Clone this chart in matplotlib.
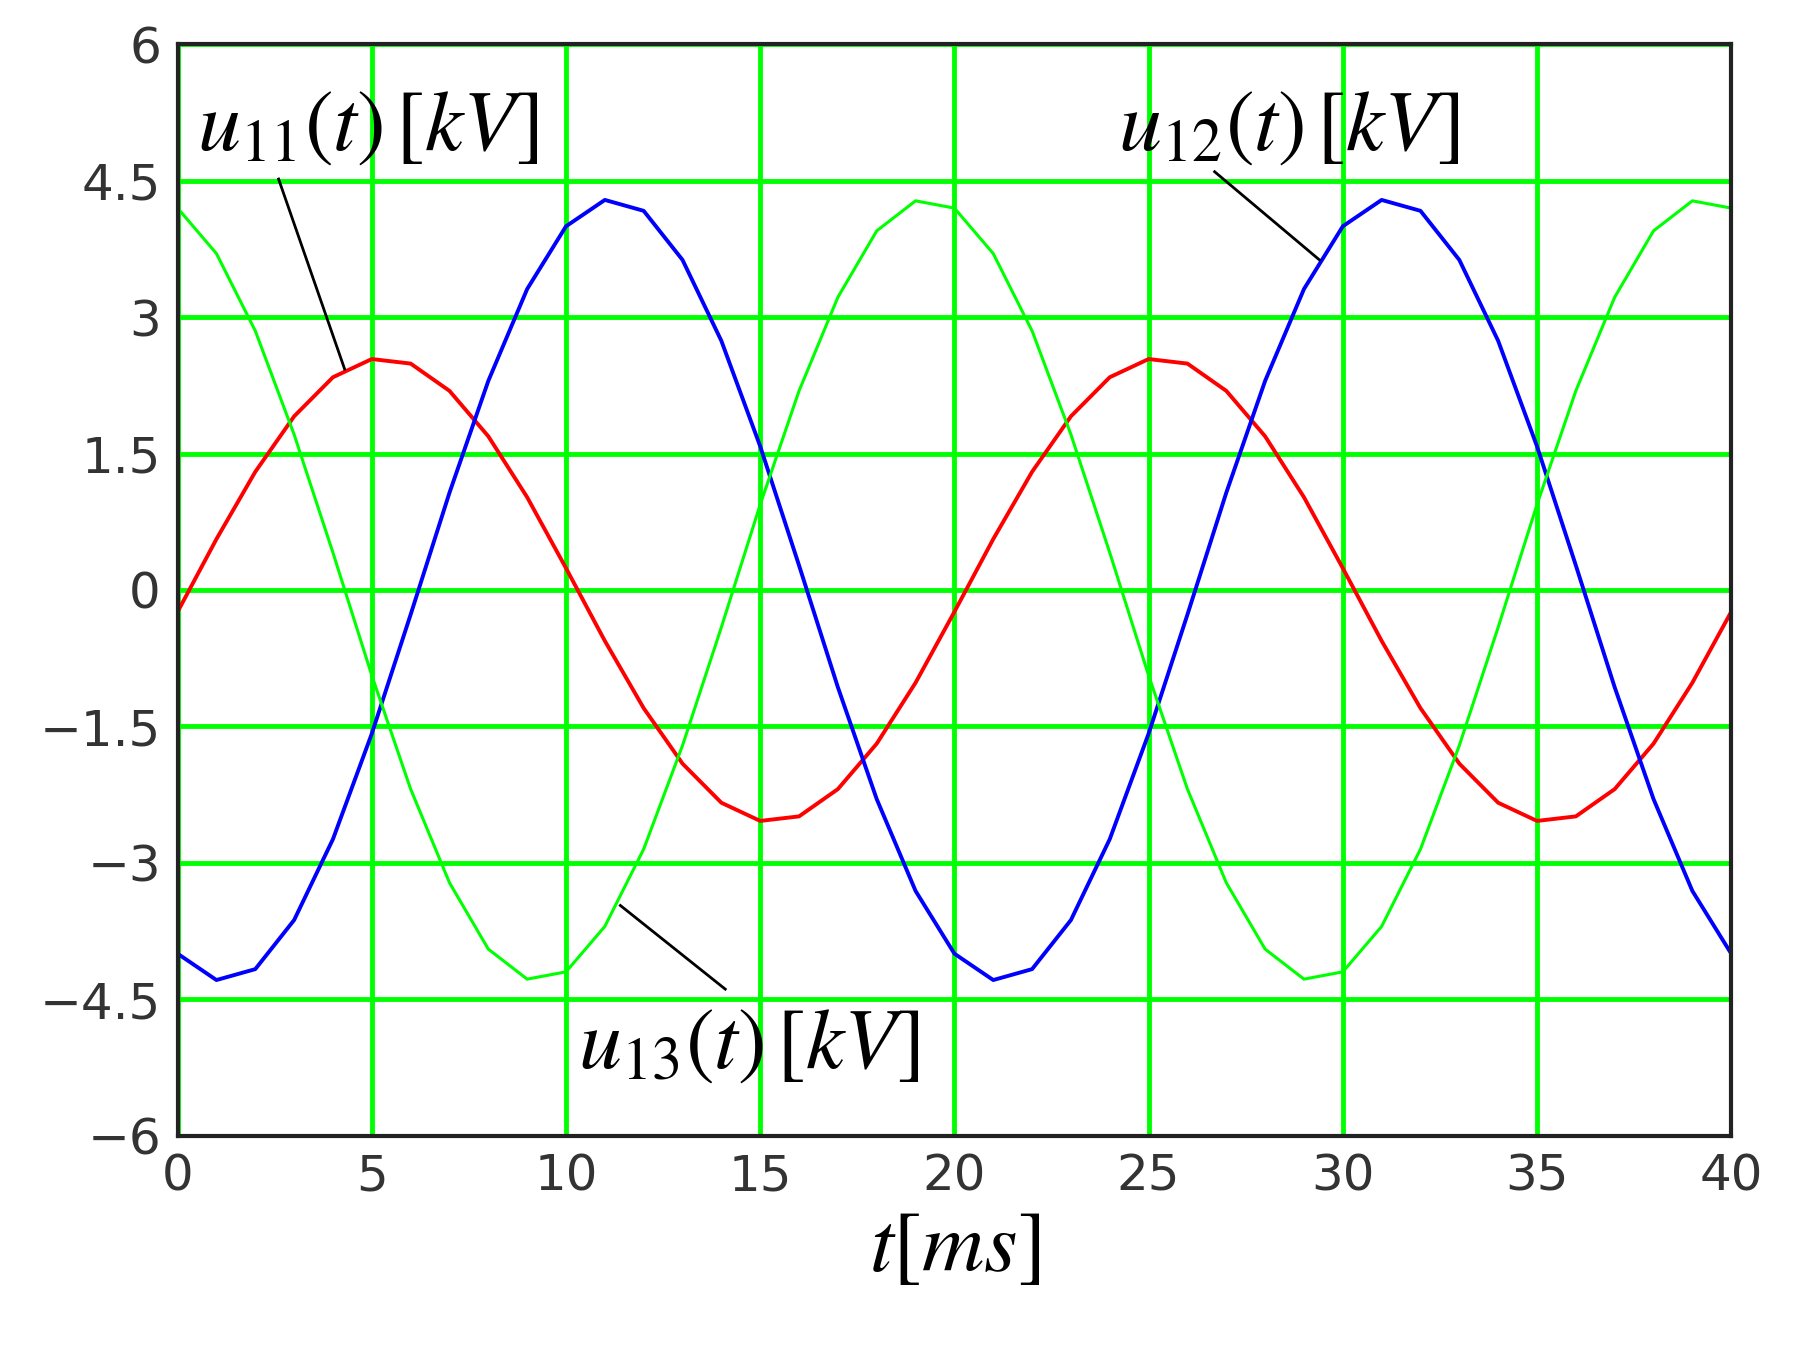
import matplotlib
matplotlib.use("Agg")
import matplotlib.pyplot as plt

t = list(range(0, 41))
u11_half = [-0.24, 0.56, 1.30, 1.91, 2.34, 2.54, 2.49, 2.19, 1.69, 1.02,
            0.24, -0.56, -1.30, -1.91, -2.34, -2.54, -2.49, -2.19, -1.69, -1.02]
u12_half = [-4.00, -4.29, -4.17, -3.63, -2.74, -1.58, -0.27, 1.07, 2.30, 3.31,
            4.00, 4.29, 4.17, 3.63, 2.74, 1.58, 0.27, -1.07, -2.30, -3.31]
u13_half = [4.20, 3.70, 2.85, 1.71, 0.41, -0.94, -2.19, -3.22, -3.95, -4.28,
            -4.20, -3.70, -2.85, -1.71, -0.41, 0.94, 2.19, 3.22, 3.95, 4.28]
u11 = u11_half * 2 + [u11_half[0]]
u12 = u12_half * 2 + [u12_half[0]]
u13 = u13_half * 2 + [u13_half[0]]
xticks = [0, 5, 10, 15, 20, 25, 30, 35, 40]
yticks = [-6, -4.5, -3, -1.5, 0, 1.5, 3, 4.5, 6]
ylabels = ["\u22126", "\u22124.5", "\u22123", "\u22121.5", "0", "1.5", "3", "4.5", "6"]

plt.rcParams['mathtext.fontset'] = 'stix'
fig = plt.figure(figsize=(17.94, 13.47), dpi=100)
ax = fig.add_axes([0.099, 0.157, 0.866, 0.81])
ax.set_xlim(0, 40)
ax.set_ylim(-6, 6)
ax.set_xticks(xticks)
ax.set_yticks(yticks)
ax.set_yticklabels(ylabels)
ax.grid(True, color='#00ff00', lw=3.5)
ax.set_axisbelow(True)
ax.tick_params(labelsize=36, length=0, pad=12, colors='#333333')
for s in ax.spines.values():
    s.set_linewidth(3)
    s.set_color('#222222')

ax.plot(t, u11, color='#ff0000', lw=2.8)
ax.plot(t, u12, color='#0000ff', lw=2.8)
ax.plot(t, u13, color='#00ff00', lw=2.2)

ax.text(0.5, 5.1, r"$u_{11}(t)\,[kV]$", fontsize=62, va='center', ha='left')
ax.text(24.2, 5.1, r"$u_{12}(t)\,[kV]$", fontsize=62, va='center', ha='left')
ax.text(10.3, -5.0, r"$u_{13}(t)\,[kV]$", fontsize=62, va='center', ha='left')
ax.plot([2.6, 4.3], [4.52, 2.43], color='black', lw=2)
ax.plot([26.7, 29.4], [4.6, 3.63], color='black', lw=2)
ax.plot([14.1, 11.4], [-4.39, -3.47], color='black', lw=2)

ax.set_xlabel(r"$t[ms]$", fontsize=62, labelpad=4)
fig.savefig("out.png", dpi=100, facecolor='white')
